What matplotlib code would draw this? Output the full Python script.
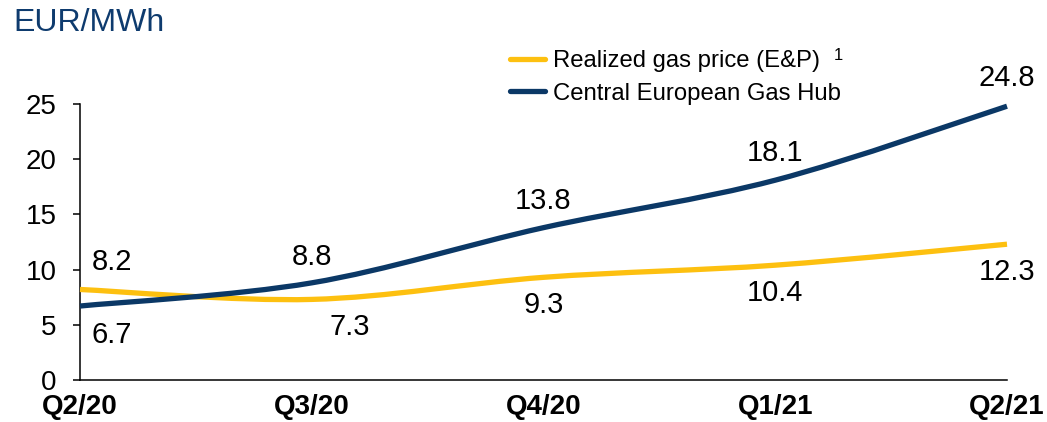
import numpy as np
import matplotlib
matplotlib.use("Agg")
import matplotlib.pyplot as plt
from matplotlib.path import Path
from matplotlib.patches import PathPatch
from matplotlib.lines import Line2D

# datos
quarters = ["Q2/20", "Q3/20", "Q4/20", "Q1/21", "Q2/21"]
realized = [8.2, 7.3, 9.3, 10.4, 12.3]
cegh = [6.7, 8.8, 13.8, 18.1, 24.8]
names = ["Realized gas price (E&P)", "Central European Gas Hub"]

# desplazamiento de las etiquetas (pixeles)
off_realized = [(32, 27), (38, -28), (0, -28), (0, -28), (0, -28)]
off_cegh = [(32, -29), (0, 26), (0, 27), (0, 27), (0, 28)]

YELLOW = "#fdc010"
BLUE = "#0b3866"
TITLE = "#0e3b6e"

plt.rcParams["font.family"] = ["Liberation Sans", "DejaVu Sans"]


def suave(x, y):
    # curva tipo excel (catmull-rom -> bezier)
    p = np.column_stack([x, y]).astype(float)
    pts = [p[0]]
    codes = [Path.MOVETO]
    n = len(p)
    for i in range(n - 1):
        p0 = p[i - 1] if i > 0 else p[i]
        p3 = p[i + 2] if i + 2 < n else p[i + 1]
        c1 = p[i] + (p[i + 1] - p0) / 6
        c2 = p[i + 1] - (p3 - p[i]) / 6
        pts += [c1, c2, p[i + 1]]
        codes += [Path.CURVE4] * 3
    return Path(pts, codes)


fig = plt.figure(figsize=(10.47, 4.22), dpi=100)
ax = fig.add_axes([80 / 1047, 42 / 422, 927 / 1047, 276 / 422])
x = np.arange(len(quarters))

for serie, col in [(realized, YELLOW), (cegh, BLUE)]:
    patch = PathPatch(suave(x, serie), facecolor="none", edgecolor=col,
                      lw=3.8, clip_on=False, capstyle="butt", zorder=3)
    ax.add_patch(patch)

for serie, offs in [(realized, off_realized), (cegh, off_cegh)]:
    for xi, v, (dx, dy) in zip(x, serie, offs):
        ax.annotate(f"{v:.1f}", (xi, v), xytext=(dx, dy), textcoords="offset pixels",
                    ha="center", va="center", fontsize=21, color="black")

ax.set_xlim(0, 4)
ax.set_ylim(0, 25)
ax.set_yticks([0, 5, 10, 15, 20, 25])
ax.set_xticks(x)
ax.set_xticklabels(quarters, fontweight="bold", fontsize=20)
ax.tick_params(axis="x", length=0, pad=10)
ax.tick_params(axis="y", length=5, width=1.1, pad=12, labelsize=20)
for s in ["top", "right"]:
    ax.spines[s].set_visible(False)
for s in ["left", "bottom"]:
    ax.spines[s].set_linewidth(1.1)

handles = [Line2D([], [], color=YELLOW, lw=3.8, solid_capstyle="round"),
           Line2D([], [], color=BLUE, lw=3.8, solid_capstyle="round")]
fig.legend(handles, names, loc="upper left", bbox_to_anchor=(510 / 1047, 1 - 50 / 422),
           frameon=False, fontsize=17.2, handlelength=1.45, handletextpad=0.35,
           labelspacing=0.45, borderpad=0, borderaxespad=0)
fig.text(834 / 1047, 1 - 56 / 422, "1", fontsize=12, ha="left", va="center")

fig.text(13 / 1047, 1 - 23 / 422, "EUR/MWh", fontsize=23, color=TITLE, ha="left", va="center")

fig.savefig("out.png", dpi=100)
